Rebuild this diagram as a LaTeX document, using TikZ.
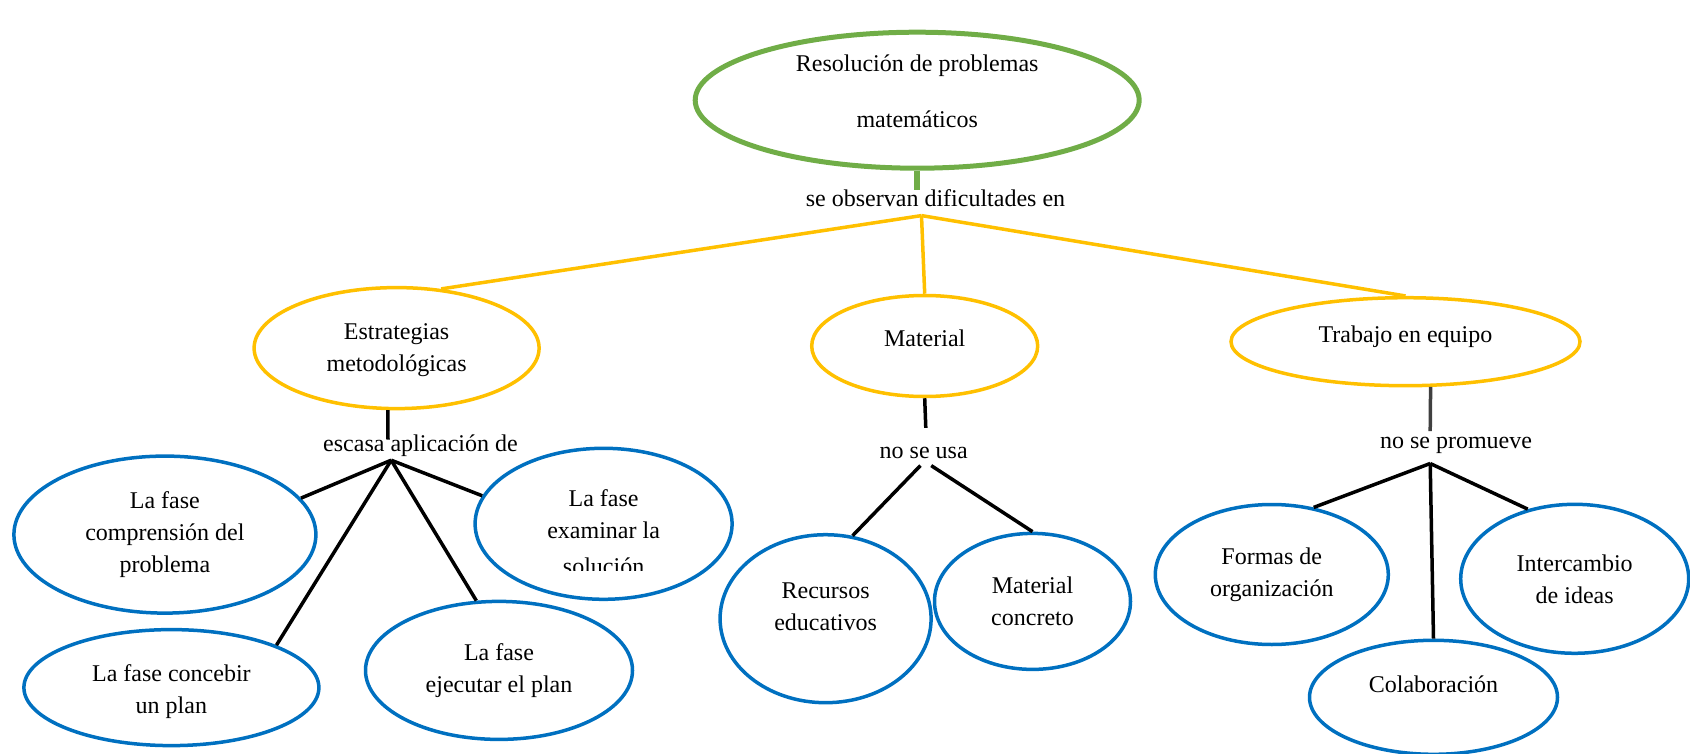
\documentclass[tikz,border=0pt]{standalone}
\usepackage{fontspec}
\setmainfont{Liberation Serif}
\usepackage{trimclip}
\usetikzlibrary{shapes.geometric}
\definecolor{cgreen}{HTML}{70AD47}
\definecolor{cyellow}{HTML}{FFC000}
\definecolor{cblue}{HTML}{0070C0}
\definecolor{cgray}{HTML}{404040}
\newcommand{\dnbox}[1]{\rule[-#1]{0pt}{1pt}}
\newcommand{\upbox}[1]{\rule{0pt}{#1}}
\begin{document}
\begin{tikzpicture}[x=1pt,y=-1pt,
  txt/.style={font=\fontsize{24pt}{32pt}\selectfont, align=center, text=black},
  ell/.style={ellipse, draw, inner sep=0pt, txt},
  gell/.style={ell, draw=cgreen, line width=5pt},
  yell/.style={ell, draw=cyellow, line width=3.5pt},
  bell/.style={ell, draw=cblue, line width=3.5pt},
  lbl/.style={txt, inner sep=0pt},
  yline/.style={draw=cyellow, line width=3.5pt},
  kline/.style={draw=black, line width=3.5pt},
]
\useasboundingbox (0,0) rectangle (1690,754);

% top level
\node[gell, minimum width=444pt, minimum height=136pt] (top) at (917.2,100.2)
  {Resolución de problemas\\[24pt]matemáticos\dnbox{19pt}};
\coordinate (g1) at (917.2,190);
\node[lbl] (obs) at (935.5,198.3) {se observan dificultades en};
\coordinate (j0) at (921.5,215.6);

% second level
\node[yell, minimum width=285pt, minimum height=121pt] (est) at (396.6,348.1)
  {\upbox{20pt}Estrategias\\metodológicas};
\node[yell, minimum width=226pt, minimum height=101pt] (mat) at (924.7,346)
  {Material\dnbox{15pt}};
\node[yell, minimum width=349pt, minimum height=88pt] (trab) at (1405.5,341.7)
  {Trabajo en equipo\dnbox{15pt}};

% estrategias children
\coordinate (e1) at (388,439.7);
\node[lbl] (esc) at (420.5,446.2) {escasa aplicación de};
\coordinate (e2) at (391.2,460.2);
\node[bell, minimum width=302pt, minimum height=157pt] (comp) at (164.9,534.6)
  {La fase\\comprensión del\\problema};
\node[bell, minimum width=257pt, minimum height=151pt] (exam) at (603.6,523.8)
  {\upbox{29pt}La fase\\examinar la\\\clipbox{0pt 4pt 0pt 0pt}{solución}};
\node[bell, minimum width=295pt, minimum height=116pt] (conc) at (171.4,687.6)
  {\upbox{24pt}La fase concebir\\un plan};
\node[bell, minimum width=267pt, minimum height=138pt] (ejec) at (499,670.4)
  {La fase\\ejecutar el plan};

% material children
\coordinate (m1) at (925.8,427.9);
\node[lbl] (usa) at (923.7,452.7) {no se usa};
\coordinate (m2) at (920.4,465.6);
\coordinate (m3) at (931.2,465.6);
\node[bell, minimum width=211pt, minimum height=168pt] (rec) at (825.6,618.7)
  {Recursos\\educativos\dnbox{24pt}};
\node[bell, minimum width=196pt, minimum height=136pt] (mc) at (1032.5,601.4)
  {Material\\concreto};

% trabajo children
\coordinate (t1) at (1430.2,431.1);
\node[lbl] (prom) at (1456,445.1) {no se promueve};
\coordinate (t2) at (1430.2,463.5);
\node[bell, minimum width=233pt, minimum height=140pt] (form) at (1271.8,574.5)
  {Formas de\\organización};
\node[bell, minimum width=228pt, minimum height=149pt] (inter) at (1574.7,578.8)
  {Intercambio\\de ideas};
\node[bell, minimum width=248pt, minimum height=114pt] (colab) at (1433.5,697.3)
  {Colaboración\dnbox{26pt}};

% connectors
\draw[draw=cgreen, line width=6pt] (top.south) -- (g1);
\draw[yline] (j0) -- (est.53);
\draw[yline] (j0) -- (mat.north);
\draw[yline] (j0) -- (trab.north);

\draw[kline] (est.262) -- (e1);
\draw[kline] (e2) -- (comp.15);
\draw[kline] (e2) -- (exam.167);
\draw[kline] (e2) -- (conc.22);
\draw[kline] (e2) -- (ejec.108);

\draw[kline] (mat.south) -- (m1);
\draw[kline] (m2) -- (rec.72);
\draw[kline] (m3) -- (mc.north);

\draw[draw=cgray, line width=3.5pt] (trab.-61) -- (t1);
\draw[kline] (t2) -- (form.58);
\draw[kline] (t2) -- (inter.124);
\draw[kline] (t2) -- (colab.north);
\end{tikzpicture}
\end{document}
